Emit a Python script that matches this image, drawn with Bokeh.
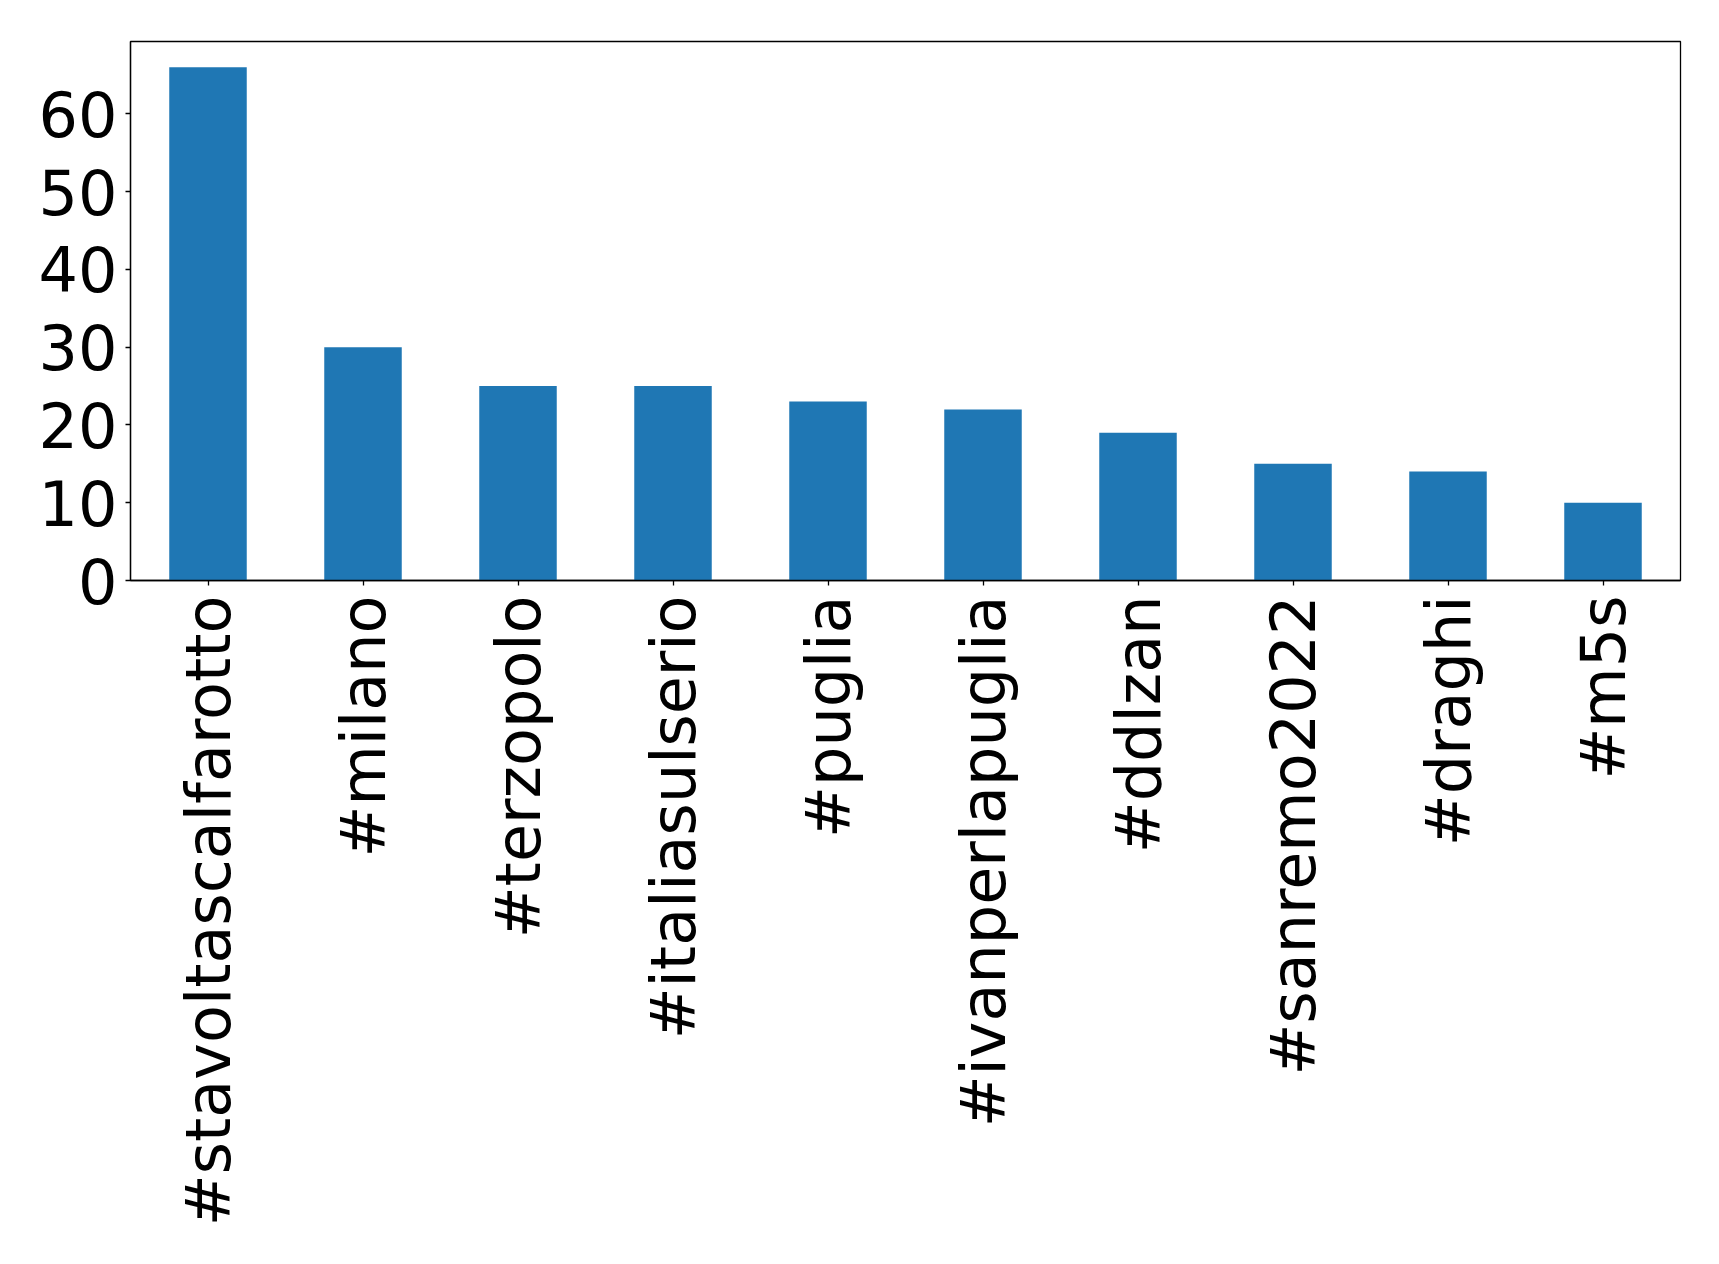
import math
from bokeh.plotting import figure
from bokeh.models import ColumnDataSource, FixedTicker, Range1d, FactorRange
from bokeh.embed import file_html
from bokeh.resources import INLINE

hashtags = ["#stavoltascalfarotto", "#milano", "#terzopolo", "#italiasulserio", "#puglia",
            "#ivanperlapuglia", "#ddlzan", "#sanremo2022", "#draghi", "#m5s"]
counts = [66, 30, 25, 25, 23, 22, 19, 15, 14, 10]
y_ticks = [0, 10, 20, 30, 40, 50, 60]

src = ColumnDataSource(dict(tag=hashtags, count=counts))

p = figure(x_range=FactorRange(factors=hashtags, range_padding=0),
           y_range=Range1d(0, 69.3),
           frame_width=1550, frame_height=539,
           min_border_left=130, min_border_top=41, min_border_right=20, min_border_bottom=5,
           output_backend="svg", toolbar_location=None)
p.vbar(x="tag", top="count", width=0.5, source=src, color="#1f77b4", line_color=None)

p.xgrid.visible = False
p.ygrid.visible = False
p.outline_line_color = "black"
p.outline_line_width = 1.3
p.outline_line_alpha = 1

for ax in (p.xaxis[0], p.yaxis[0]):
    ax.major_label_text_font = "DejaVu Sans"
    ax.major_label_text_font_size = "62px"
    ax.major_label_text_color = "black"
    ax.axis_line_color = "black"
    ax.axis_line_width = 1.3
    ax.major_tick_line_color = "black"
    ax.major_tick_line_width = 1.3
    ax.major_tick_out = 5
    ax.major_tick_in = 0
    ax.minor_tick_line_color = None
    ax.major_label_standoff = 8

p.yaxis[0].ticker = FixedTicker(ticks=y_ticks)
p.xaxis[0].major_label_orientation = math.pi / 2
p.xaxis[0].major_label_standoff = 10

open("out.html", "w").write(file_html(p, INLINE))
